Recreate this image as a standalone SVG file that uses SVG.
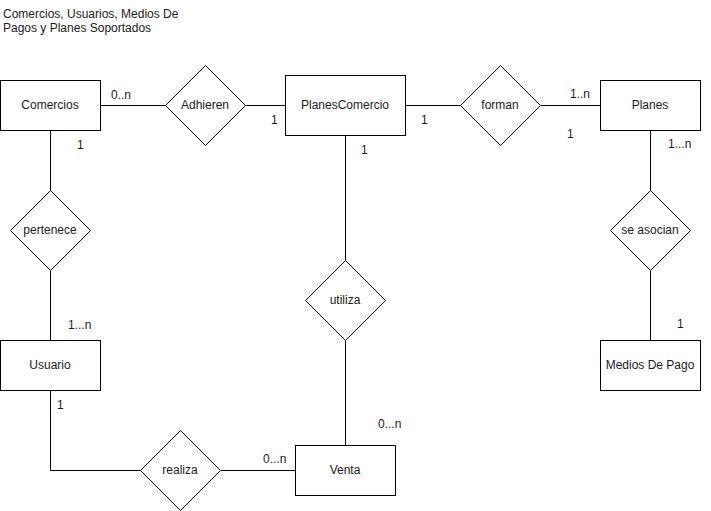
<svg xmlns="http://www.w3.org/2000/svg" width="711" height="511" viewBox="0 0 711 511">
  <style>
    .shape { fill: #ffffff; stroke: #000000; stroke-width: 1; }
    .edge { fill: none; stroke: #000000; stroke-width: 1; }
    text { font-family: "Liberation Sans", Arial, Helvetica, sans-serif; font-size: 12px; fill: #1a1a1a; }
    .c { text-anchor: middle; }
  </style>
  <rect width="711" height="511" fill="#ffffff"/>

  <!-- title -->
  <text x="3" y="18">Comercios, Usuarios, Medios De</text>
  <text x="3" y="32">Pagos y Planes Soportados</text>

  <!-- connectors -->
  <g id="connectors">
    <path class="edge" d="M100.5 105.5 H165.5"/>
    <path class="edge" d="M245.5 105.5 H285.5"/>
    <path class="edge" d="M405.5 105.5 H460.5"/>
    <path class="edge" d="M540.5 105.5 H600.5"/>
    <path class="edge" d="M650.5 130.5 V190.5"/>
    <path class="edge" d="M650.5 270.5 V340.5"/>
    <path class="edge" d="M50.5 130.5 V190.5"/>
    <path class="edge" d="M50.5 270.5 V340.5"/>
    <path class="edge" d="M50.5 390.5 V470.5 H140.5"/>
    <path class="edge" d="M220.5 470.5 H295.5"/>
    <path class="edge" d="M345.5 135.5 V260.5"/>
    <path class="edge" d="M345.5 340.5 V445.5"/>

    <!-- cardinalities -->
    <text x="111" y="99">0..n</text>
    <text x="77" y="149">1</text>
    <text x="271" y="124">1</text>
    <text x="421" y="124">1</text>
    <text x="361" y="154">1</text>
    <text x="570" y="98">1..n</text>
    <text x="567" y="138">1</text>
    <text x="668" y="148">1...n</text>
    <text x="677" y="328">1</text>
    <text x="68" y="329">1...n</text>
    <text x="57" y="409">1</text>
    <text x="263" y="463">0...n</text>
    <text x="378" y="428">0...n</text>
  </g>

  <!-- entities -->
  <g id="comercios">
    <rect class="shape" x="0.5" y="80.5" width="100" height="50"/>
    <text class="c" x="50" y="109">Comercios</text>
  </g>
  <g id="planes-comercio">
    <rect class="shape" x="285.5" y="75.5" width="120" height="60"/>
    <text class="c" x="345" y="109">PlanesComercio</text>
  </g>
  <g id="planes">
    <rect class="shape" x="600.5" y="80.5" width="100" height="50"/>
    <text class="c" x="650" y="109">Planes</text>
  </g>
  <g id="medios-de-pago">
    <rect class="shape" x="600.5" y="340.5" width="100" height="50"/>
    <text class="c" x="650" y="369">Medios De Pago</text>
  </g>
  <g id="usuario">
    <rect class="shape" x="0.5" y="340.5" width="100" height="50"/>
    <text class="c" x="50" y="369">Usuario</text>
  </g>
  <g id="venta">
    <rect class="shape" x="295.5" y="445.5" width="100" height="50"/>
    <text class="c" x="345" y="474">Venta</text>
  </g>

  <!-- relationships -->
  <g id="adhieren">
    <path class="shape" d="M205.5 65.5 L245.5 105.5 L205.5 145.5 L165.5 105.5 Z"/>
    <text class="c" x="205" y="109">Adhieren</text>
  </g>
  <g id="forman">
    <path class="shape" d="M500.5 65.5 L540.5 105.5 L500.5 145.5 L460.5 105.5 Z"/>
    <text class="c" x="500" y="109">forman</text>
  </g>
  <g id="se-asocian">
    <path class="shape" d="M650.5 190.5 L690.5 230.5 L650.5 270.5 L610.5 230.5 Z"/>
    <text class="c" x="650" y="234">se asocian</text>
  </g>
  <g id="pertenece">
    <path class="shape" d="M50.5 190.5 L90.5 230.5 L50.5 270.5 L10.5 230.5 Z"/>
    <text class="c" x="50" y="234">pertenece</text>
  </g>
  <g id="utiliza">
    <path class="shape" d="M345.5 260.5 L385.5 300.5 L345.5 340.5 L305.5 300.5 Z"/>
    <text class="c" x="345" y="304">utiliza</text>
  </g>
  <g id="realiza">
    <path class="shape" d="M180.5 430.5 L220.5 470.5 L180.5 510.5 L140.5 470.5 Z"/>
    <text class="c" x="180" y="474">realiza</text>
  </g>
</svg>
